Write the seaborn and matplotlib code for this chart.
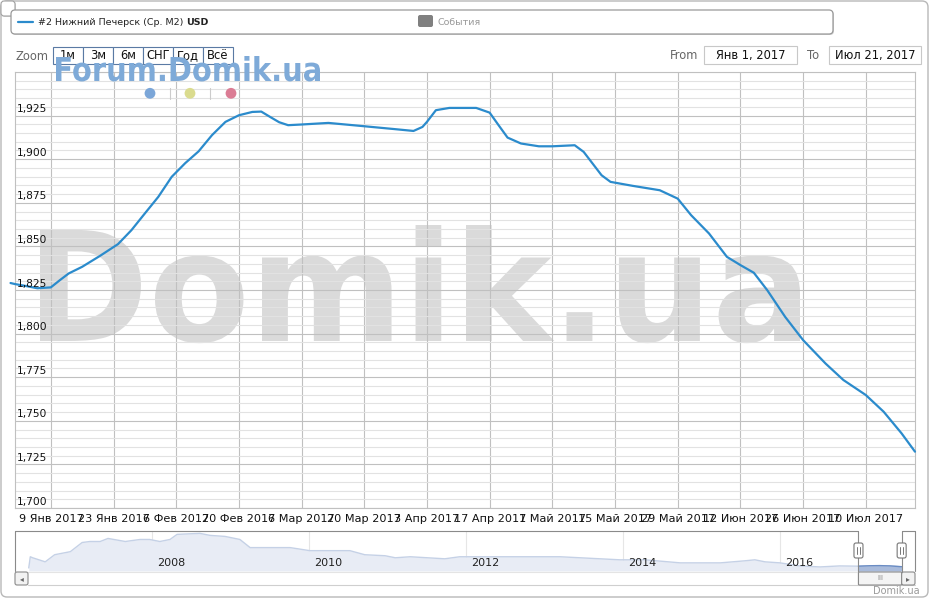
import pandas as pd
import seaborn as sns
import matplotlib
matplotlib.use("Agg")
import matplotlib.pyplot as plt
from matplotlib.patches import FancyBboxPatch, Ellipse, PathPatch
from matplotlib.lines import Line2D
from matplotlib.textpath import TextPath
from matplotlib.font_manager import FontProperties
from matplotlib.transforms import Affine2D, blended_transform_factory
from matplotlib.ticker import MultipleLocator

# =========================
# DATA
# =========================
dates = [
    "2016-12-31", "2017-01-01", "2017-01-03", "2017-01-06", "2017-01-09",
    "2017-01-11", "2017-01-13", "2017-01-16", "2017-01-20", "2017-01-24",
    "2017-01-27", "2017-01-30", "2017-02-02", "2017-02-05", "2017-02-08",
    "2017-02-11", "2017-02-14", "2017-02-17", "2017-02-20", "2017-02-23",
    "2017-02-25", "2017-02-27", "2017-03-01", "2017-03-03", "2017-03-06",
    "2017-03-12", "2017-03-20", "2017-03-27", "2017-03-31", "2017-04-02",
    "2017-04-03", "2017-04-05", "2017-04-08", "2017-04-14", "2017-04-17",
    "2017-04-19", "2017-04-21", "2017-04-24", "2017-04-28", "2017-05-01",
    "2017-05-06", "2017-05-08", "2017-05-10", "2017-05-12", "2017-05-14",
    "2017-05-19", "2017-05-25", "2017-05-29", "2017-06-01", "2017-06-05",
    "2017-06-09", "2017-06-12", "2017-06-15", "2017-06-18", "2017-06-22",
    "2017-06-26", "2017-07-01", "2017-07-05", "2017-07-10", "2017-07-14",
    "2017-07-18", "2017-07-21",
]
prices = [
    1829.0, 1828.4, 1827.5, 1826.0, 1826.5,
    1830.6, 1834.5, 1838.3, 1844.6, 1851.3,
    1859.3, 1868.9, 1878.4, 1889.9, 1897.7,
    1904.5, 1913.8, 1921.4, 1925.2, 1927.1,
    1927.3, 1924.2, 1921.2, 1919.5, 1919.9,
    1920.8, 1918.9, 1917.2, 1916.2, 1918.5,
    1921.4, 1928.1, 1929.4, 1929.4, 1926.7,
    1919.5, 1912.4, 1909.0, 1907.4, 1907.4,
    1908.0, 1904.2, 1897.5, 1890.8, 1887.0,
    1884.7, 1882.2, 1877.4, 1867.9, 1857.4,
    1844.0, 1839.3, 1834.9, 1824.9, 1809.6,
    1796.3, 1782.9, 1773.4, 1764.8, 1755.2,
    1742.8, 1732.3,
]
x_tick_dates = [
    "2017-01-09", "2017-01-23", "2017-02-06", "2017-02-20", "2017-03-06",
    "2017-03-20", "2017-04-03", "2017-04-17", "2017-05-01", "2017-05-15",
    "2017-05-29", "2017-06-12", "2017-06-26", "2017-07-10",
]
month_names = ["Янв", "Фев", "Мар", "Апр", "Май", "Июн", "Июл"]
y_tick_values = [1700, 1725, 1750, 1775, 1800, 1825, 1850, 1875, 1900, 1925]
x_range = ("2017-01-01", "2017-07-21")
y_range = (1700, 1950)

# navigator (whole history, decimal years)
nav_years = [
    2006.43, 2006.45, 2006.48, 2006.64, 2006.76, 2006.96, 2007.11, 2007.21,
    2007.34, 2007.44, 2007.66, 2007.85, 2007.97, 2008.10, 2008.23, 2008.32,
    2008.61, 2008.74, 2008.93, 2009.12, 2009.25, 2009.50, 2009.76, 2010.01,
    2010.52, 2010.71, 2010.97, 2011.10, 2011.29, 2011.73, 2011.92, 2012.24,
    2012.75, 2013.20, 2013.96, 2014.28, 2014.73, 2015.24, 2015.55, 2015.68,
    2015.81, 2016.00, 2016.25, 2016.51, 2016.76, 2017.00, 2017.15, 2017.27,
    2017.40, 2017.55,
]
nav_prices = [
    1525, 3450, 3275, 2575, 3800, 4325, 5900, 6075,
    6075, 6600, 6075, 6425, 6425, 6075, 6425, 7300,
    7475, 7125, 6950, 6425, 5025, 5025, 5025, 4500,
    4500, 3800, 3625, 3275, 3450, 3100, 3450, 3450,
    3450, 3450, 2925, 2925, 2400, 2400, 2750, 2925,
    2575, 2400, 1875, 1700, 1875, 1830, 1905, 1925,
    1880, 1735,
]
nav_year_ticks = [2008, 2010, 2012, 2014, 2016]
nav_x_range = (2006.255, 2017.72)
nav_y_range = (1000, 7880)
nav_selected = (2017.0, 2017.55)

series_name = "#2 Нижний Печерск (Ср. М2)"
series_unit = "USD"
events_label = "События"
zoom_buttons = ["1м", "3м", "6м", "СНГ", "Год", "Всё"]
range_from = "Янв 1, 2017"
range_to = "Июл 21, 2017"

LINE_COLOR = "#2b8bcc"
GRID = "#c0c0c0"
MINOR = "#e2e2e2"

# =========================
# FIGURE
# =========================
sns.set_theme(style="white")
plt.rcParams["font.family"] = ["DejaVu Sans"]

W, H = 931, 600
fig = plt.figure(figsize=(W / 100, H / 100), dpi=100)
fig.patch.set_facecolor("white")


def fx(x):
    return x / W


def fy(y):
    return 1 - y / H


def line(xs, ys, color, lw=0.8, z=5):
    fig.add_artist(Line2D([fx(x) for x in xs], [fy(y) for y in ys],
                          transform=fig.transFigure, color=color, lw=lw, zorder=z))


def rbox(x0, y0, x1, y1, fc="white", ec="#b0b0b0", lw=0.8, r=3, z=5):
    style = f"round,pad=0,rounding_size={r / W}" if r else "square,pad=0"
    fig.add_artist(FancyBboxPatch((fx(x0), fy(y1)), (x1 - x0) / W, (y1 - y0) / H,
                                  boxstyle=style, mutation_aspect=W / H,
                                  transform=fig.transFigure, fc=fc, ec=ec, lw=lw, zorder=z))


def txt(x, y, s, size=8.3, color="#222222", ha="left", va="center", weight="normal", z=6):
    return fig.text(fx(x), fy(y), s, fontsize=size, color=color, ha=ha, va=va,
                    fontweight=weight, zorder=z)


def text_shape(target, s, x0, x1, top, base, color, z):
    # text drawn as a path stretched into a pixel box (watermarks)
    tp = TextPath((0, 0), s, size=100, prop=FontProperties(family="DejaVu Sans", weight="bold"))
    ext = tp.get_extents()
    sx = (x1 - x0) / ext.width
    sy = (base - top) / ext.ymax
    tr = (Affine2D().translate(-ext.xmin, 0).scale(sx, sy)
          .translate(x0, H - base).scale(1 / W, 1 / H) + fig.transFigure)
    patch = PathPatch(tp, transform=tr, fc=color, ec="none", zorder=z, clip_on=False)
    target.add_artist(patch)


# outer frame and the small corner box
rbox(1, 1, 928, 597, fc="none", ec="#b8b8b8", lw=1, r=6, z=0.5)
rbox(2, 2, 16, 17, fc="#d8d8d8", ec="none", r=3, z=1)
rbox(1, 1, 15, 16, fc="white", ec="#a0a0a0", lw=0.8, r=3, z=1.1)

# =========================
# MAIN CHART
# =========================
ax = fig.add_axes([fx(15), fy(508), 900 / W, 436 / H])
ax.set_facecolor("white")

df = pd.DataFrame({"date": pd.to_datetime(dates), "price": prices})
sns.lineplot(data=df, x="date", y="price", ax=ax, color=LINE_COLOR,
             linewidth=1.6, clip_on=False, zorder=3)
ax.lines[-1].set_solid_joinstyle("round")

ax.set_xlim(pd.Timestamp(x_range[0]), pd.Timestamp(x_range[1]))
ax.set_ylim(*y_range)
ax.set_xlabel("")
ax.set_ylabel("")

ticks = pd.to_datetime(x_tick_dates)
ax.set_xticks(ticks)
ax.set_xticklabels([f"{d.day} {month_names[d.month - 1]} 2017" for d in ticks],
                   fontsize=8.1, color="#111111")
ax.tick_params(axis="x", length=0, pad=4)

ax.set_yticks(y_tick_values)
ax.set_yticklabels([])
ax.yaxis.set_minor_locator(MultipleLocator(5))
ax.tick_params(axis="y", which="major", direction="out", length=4, color=GRID, width=0.8, pad=0)
ax.tick_params(axis="y", which="minor", length=0)
ax.set_axisbelow(True)
ax.grid(which="major", color=GRID, lw=0.8)
ax.grid(which="minor", axis="y", color=MINOR, lw=0.8)
for s in ax.spines.values():
    s.set_color(GRID)
    s.set_linewidth(0.8)

ylab = blended_transform_factory(ax.transAxes, ax.transData)
for v in y_tick_values:
    ax.text(0.002, v + 0.8, f"{v:,}", transform=ylab, ha="left", va="bottom",
            fontsize=7.7, color="#111111", zorder=4)

# big grey watermark behind the grid
text_shape(ax, "Domik.ua", 40, 800, 225, 341, "#dadada", 0.3)

# =========================
# NAVIGATOR
# =========================
ax2 = fig.add_axes([fx(15), fy(571), 900 / W, 40 / H])
nav = pd.DataFrame({"year": nav_years, "price": nav_prices})
sel = nav[(nav["year"] >= nav_selected[0]) & (nav["year"] <= nav_selected[1])]

ax2.fill_between(nav["year"], nav["price"], nav_y_range[0], color="#e8ecf5", lw=0, zorder=1)
sns.lineplot(data=nav, x="year", y="price", ax=ax2, color="#c5d1e6", linewidth=1, zorder=2)
ax2.fill_between(sel["year"], sel["price"], nav_y_range[0], color="#a9bbdb", lw=0, zorder=3)
sns.lineplot(data=sel, x="year", y="price", ax=ax2, color="#6a8cc4", linewidth=1, zorder=4)

ax2.set_xlim(*nav_x_range)
ax2.set_ylim(*nav_y_range)
ax2.set_xlabel("")
ax2.set_ylabel("")
ax2.set_xticks(nav_year_ticks)
ax2.set_xticklabels([])
ax2.set_yticks([])
ax2.tick_params(length=0)
ax2.grid(axis="x", color="#e6e6e6", lw=0.8)
ax2.set_axisbelow(True)
for s in ax2.spines.values():
    s.set_visible(False)
navlab = blended_transform_factory(ax2.transData, ax2.transAxes)
for yr in nav_year_ticks:
    ax2.text(yr + 0.064, 0.2, str(yr), transform=navlab, ha="left", va="center",
             fontsize=8, color="#222222", zorder=5)

# handle positions from the navigator scale
hx0 = ax2.transData.transform((nav_selected[0], 0))[0]
hx1 = ax2.transData.transform((nav_selected[1], 0))[0]

OUT = "#8a8a8a"
line([15, 15], [531, 571], OUT)
line([915, 915], [531, 571], OUT)
line([15, hx0], [531, 531], OUT)
line([hx1, 915], [531, 531], OUT)
line([hx0, hx0], [531, 585], OUT)
line([hx1, hx1], [531, 585], OUT)
for hx in (hx0, hx1):
    rbox(hx - 4.5, 543, hx + 4.5, 558, fc="white", ec="#777777", lw=0.8, r=2, z=7)
    line([hx - 1.3, hx - 1.3], [547, 554], "#777777", lw=0.7, z=8)
    line([hx + 1.3, hx + 1.3], [547, 554], "#777777", lw=0.7, z=8)

# scrollbar
line([28, 915], [585, 585], "#cfcfcf")
line([28, hx0], [572, 572], "#e4e4e4")
rbox(hx0, 572, hx1, 585, fc="#f4f4f4", ec="#8a8a8a", lw=0.8, r=1, z=6)
txt((hx0 + hx1) / 2, 578.5, "III", size=5, color="#888888", ha="center")
rbox(15, 572, 28, 585, fc="#f2f2f2", ec="#8a8a8a", lw=0.8, r=2, z=6)
txt(21.5, 578.5, "◂", size=5.5, color="#666666", ha="center")
rbox(hx1, 572, 915, 585, fc="#f2f2f2", ec="#8a8a8a", lw=0.8, r=2, z=6)
txt((hx1 + 915) / 2, 578.5, "▸", size=5.5, color="#666666", ha="center")

txt(920, 591, "Domik.ua", size=7, color="#9a9a9a", ha="right")

# =========================
# LEGEND BAR
# =========================
rbox(12, 11, 834, 35, fc="#d0d0d0", ec="none", r=4, z=1)
rbox(11, 10, 833, 34, fc="white", ec="#9a9a9a", lw=0.9, r=4, z=1.1)
line([18, 33], [22, 22], LINE_COLOR, lw=1.6, z=2)
t = txt(38, 22.5, series_name, size=6.8, color="#222222", z=2)
bb = t.get_window_extent(renderer=fig.canvas.get_renderer())
txt(bb.x1 + 3, 22.5, series_unit, size=6.8, color="#222222", weight="bold", z=2)
rbox(418, 15, 433, 27, fc="#808080", ec="none", r=2, z=2)
txt(438, 22.5, events_label, size=6.8, color="#9a9a9a", z=2)

# =========================
# RANGE SELECTOR
# =========================
txt(16, 56, "Zoom", size=8.3, color="#666666")
for i, label in enumerate(zoom_buttons):
    x0 = 53 + 30 * i
    rbox(x0, 47, x0 + 30, 64, fc="white", ec="#5a7aa4", lw=0.8, r=0, z=5)
    txt(x0 + 15, 55.5, label, size=8.3, color="#111111", ha="center", z=5.5)

txt(698, 55.5, "From", size=8.3, color="#666666", ha="right")
rbox(704, 46, 797, 64, fc="white", ec="#c8c8c8", lw=0.8, r=0, z=5)
txt(750.5, 55.5, range_from, size=8.3, color="#111111", ha="center")
txt(807, 55.5, "To", size=8.3, color="#666666")
rbox(829, 46, 921, 64, fc="white", ec="#c8c8c8", lw=0.8, r=0, z=5)
txt(875, 55.5, range_to, size=8.3, color="#111111", ha="center")

# blue watermark over the selector
text_shape(fig, "Forum.Domik.ua", 56, 320, 56, 81, "#7eaad8", 9)
for cx, col in [(150, "#7ba6d8"), (190, "#dadb8e"), (231, "#db7c94")]:
    fig.add_artist(Ellipse((fx(cx), fy(93.3)), 10.8 / W, 10.8 / H, transform=fig.transFigure,
                           fc=col, ec="none", zorder=9))
line([170, 170], [88, 99], "#cccccc", lw=0.8, z=9)
line([210, 210], [88, 99], "#cccccc", lw=0.8, z=9)

fig.savefig("out.png", dpi=100)
